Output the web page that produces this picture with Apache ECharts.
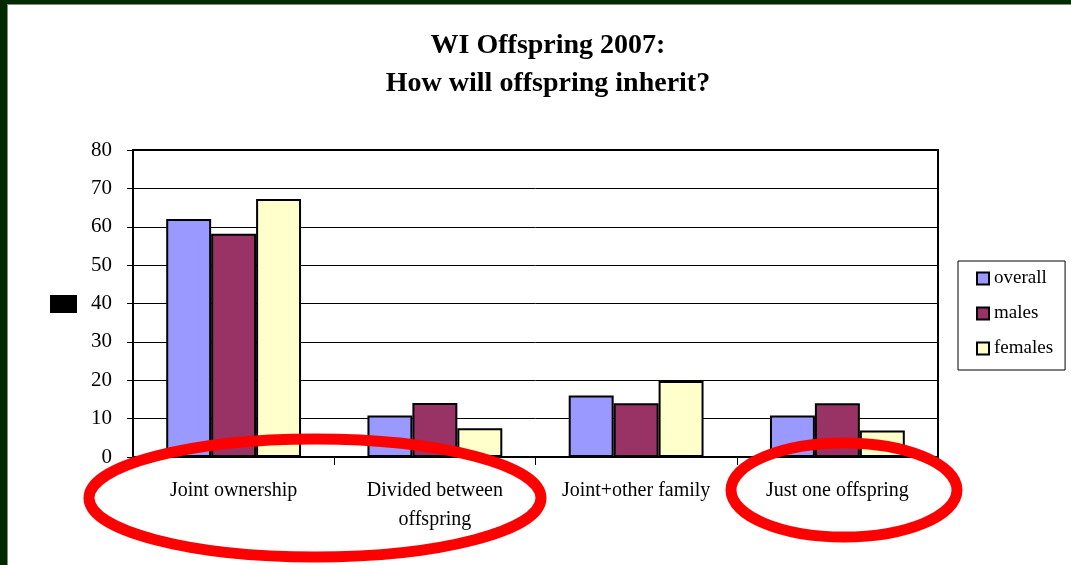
<!DOCTYPE html>
<html>
<head>
<meta charset="utf-8">
<script src="https://cdn.jsdelivr.net/npm/echarts@6/dist/echarts.min.js"></script>
<style>
html,body{margin:0;padding:0;background:#fff;}
#chart{width:1071px;height:565px;}
</style>
</head>
<body>
<div id="chart"></div>
<script>
const titleLines = ['WI Offspring 2007:', 'How will offspring inherit?'];
const categories = ['Joint ownership', 'Divided between\noffspring', 'Joint+other family', 'Just one offspring'];
const seriesNames = ['overall', 'males', 'females'];
const overall = [62, 10.8, 16, 10.8];
const males = [58.2, 14.1, 14, 14];
const females = [67.2, 7.5, 19.8, 6.9];
const yTicks = { min: 0, max: 80, interval: 10 };

const serif = '"Liberation Serif", "Times New Roman", serif';
const colors = ['#9999ff', '#993366', '#ffffcc'];
const dataSets = [overall, males, females];

const chart = echarts.init(document.getElementById('chart'), null, { renderer: 'canvas' });
chart.setOption({
  backgroundColor: '#ffffff',
  animation: false,
  title: {
    text: titleLines.join('\n'),
    left: 543,
    top: 22,
    textAlign: 'center',
    textStyle: { fontFamily: serif, fontWeight: 'bold', fontSize: 28, lineHeight: 38, color: '#000' }
  },
  legend: {
    orient: 'vertical',
    left: 958,
    top: 261,
    data: seriesNames,
    icon: 'rect',
    itemWidth: 12,
    itemHeight: 12,
    itemGap: 16,
    padding: [8, 12, 12, 18],
    borderColor: '#000',
    borderWidth: 1,
    backgroundColor: '#fff',
    textStyle: { fontFamily: serif, fontSize: 19, lineHeight: 16, color: '#000' }
  },
  grid: {
    left: 133, top: 150, width: 805, height: 307,
    show: true, borderColor: '#000', borderWidth: 2, backgroundColor: 'transparent'
  },
  xAxis: {
    type: 'category',
    data: categories,
    axisLine: { lineStyle: { color: '#000', width: 2 } },
    axisTick: { show: true, length: 8, lineStyle: { color: '#000', width: 1 } },
    axisLabel: { fontFamily: serif, fontSize: 20, lineHeight: 29, color: '#000', margin: 19, interval: 0 }
  },
  yAxis: {
    type: 'value',
    min: yTicks.min, max: yTicks.max, interval: yTicks.interval,
    axisLine: { show: true, lineStyle: { color: '#000', width: 2 } },
    axisTick: { show: true, length: 6, lineStyle: { color: '#000', width: 1 } },
    axisLabel: { fontFamily: serif, fontSize: 21, color: '#000', margin: 21 },
    splitLine: { lineStyle: { color: '#000', width: 1 } }
  },
  series: seriesNames.map((n, i) => ({
    name: n,
    type: 'bar',
    data: dataSets[i],
    barGap: '0%',
    barCategoryGap: '33%',
    itemStyle: { color: colors[i], borderColor: '#000', borderWidth: 2 }
  })),
  graphic: [
    { type: 'rect', left: 0, top: 0, shape: { width: 7, height: 565 }, style: { fill: '#012a01' }, z: 100 },
    { type: 'rect', left: 0, top: 0, shape: { width: 1071, height: 4 }, style: { fill: '#012a01' }, z: 100 },
    { type: 'rect', left: 7, top: 4, shape: { width: 1064, height: 1 }, style: { fill: '#888' }, z: 100 },
    { type: 'rect', left: 7, top: 4, shape: { width: 1, height: 561 }, style: { fill: '#888' }, z: 100 },
    { type: 'rect', left: 50, top: 295, shape: { width: 27, height: 18 }, style: { fill: '#000' }, z: 100 },
    { type: 'ellipse', shape: { cx: 315, cy: 498, rx: 226, ry: 59 }, style: { fill: 'none', stroke: '#ff0000', lineWidth: 11 }, z: 100 },
    { type: 'ellipse', shape: { cx: 844, cy: 490, rx: 113, ry: 47 }, style: { fill: 'none', stroke: '#ff0000', lineWidth: 11 }, z: 100 }
  ]
});
</script>
</body>
</html>
